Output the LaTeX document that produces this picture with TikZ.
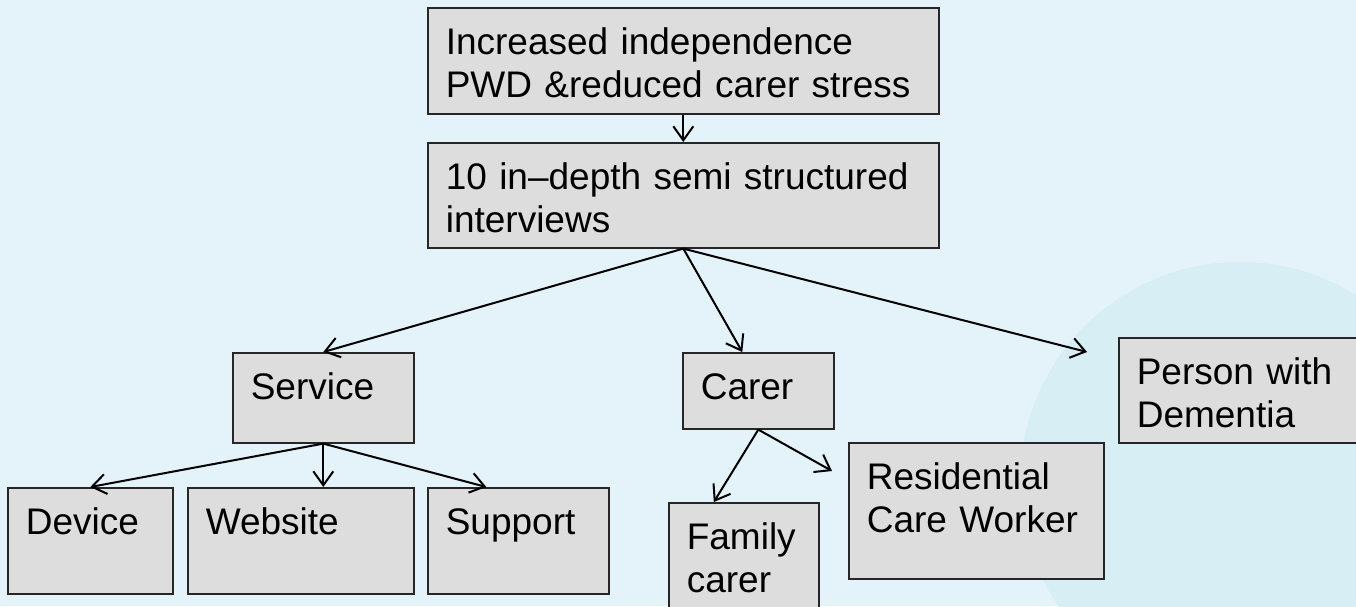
\documentclass[tikz,border=0pt]{standalone}
\usepackage{fontspec}
\setmainfont{Liberation Sans}
\usepackage{tikz}
\usetikzlibrary{arrows.meta}
\definecolor{bgblue}{HTML}{E4F3F9}
\definecolor{ringblue}{HTML}{D7EEF5}
\definecolor{boxgrey}{HTML}{DDDDDD}
\tikzstyle{box} = [rectangle, anchor=north west, draw=black!85, line width=1.6pt, fill=boxgrey, align=left, inner xsep=18pt, inner ysep=17pt, text height=29.8pt, font=\fontsize{37}{42.5}\selectfont]
\tikzstyle{arrow} = [line width=2pt, -{Straight Barb[length=14pt,width=20pt]}]

\begin{document}
\begin{tikzpicture}[x=1pt,y=-1pt]
\clip (0,0) rectangle (1356,606);
\fill[bgblue] (0,0) rectangle (1356,606);
\fill[ringblue] (1240,482) circle [radius=220pt];
\fill[ringblue] (1272,707) circle [radius=175pt];

\node [box, text width=475pt, text depth=42.2pt] (goal) at (427,7) {Increased independence\\PWD \&reduced carer stress};
\node [box, text width=475pt, text depth=41.2pt] (study) at (427,142) {10 in--depth semi structured\\interviews};
\node [box, text width=145pt, text depth=26.2pt] (service) at (232,352) {Service};
\node [box, text width=115pt, text depth=12.2pt] (carer) at (682,352) {Carer};
\node [box, text width=216pt, text depth=41.2pt] (person) at (1118,337) {Person with\\Dementia};
\node [box, text width=129pt, text depth=42.2pt] (device) at (7,487) {Device};
\node [box, text width=190pt, text depth=42.2pt] (website) at (187,487) {Website};
\node [box, text width=145pt, text depth=42.2pt] (support) at (427,487) {Support};
\node [box, text width=114pt, text depth=54.2pt] (family) at (668,502) {Family\\carer};
\node [box, text width=219pt, text depth=72.2pt] (resid) at (848,442) {Residential\\Care Worker};

\draw [arrow] (goal.south) -- (study.north);
\draw [arrow] (study.south) -- (service.north);
\draw [arrow] (study.south) -- ([xshift=-16pt]carer.north);
\draw [arrow] (study.south) -- ([xshift=-31pt,yshift=-15pt]person.north west);
\draw [arrow] (service.south) -- (device.north);
\draw [arrow] (service.south) -- (service.south |- website.north);
\draw [arrow] (service.south) -- ([xshift=-32pt]support.north);
\draw [arrow] (carer.south) -- ([xshift=-30pt]family.north);
\draw [arrow] (carer.south) -- ([xshift=-16pt,yshift=-29pt]resid.north west);
\end{tikzpicture}
\end{document}
